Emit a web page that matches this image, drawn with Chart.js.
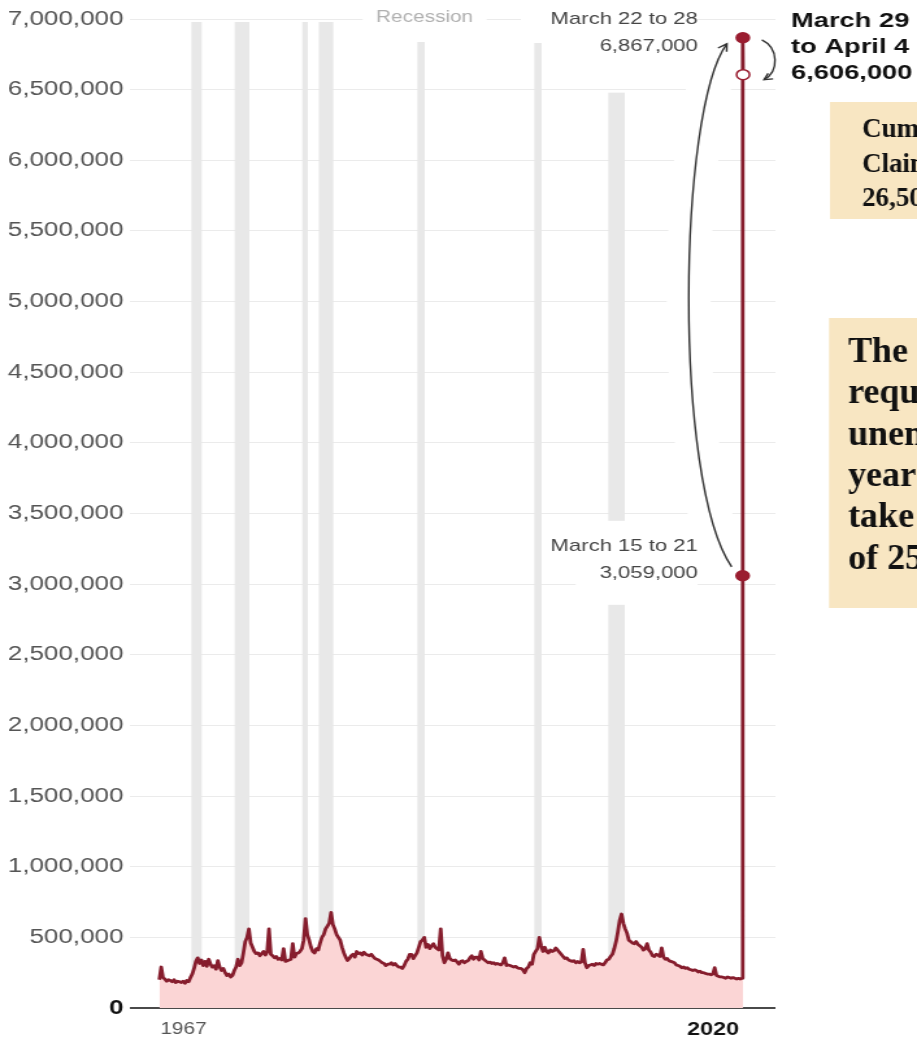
<!DOCTYPE html>
<html>
<head>
<meta charset="utf-8">
<script src="https://cdn.jsdelivr.net/npm/chart.js@4.4.1/dist/chart.umd.min.js"></script>
<style>
  html, body { margin: 0; padding: 0; background: #fff; overflow: hidden; }
  #wrap { position: absolute; left: 0; top: 0; width: 706px; height: 1044px;
          transform: scaleX(1.298867); transform-origin: 0 0; }
  canvas { display: block; }
</style>
</head>
<body>
<div id="wrap"><canvas id="c" width="706" height="1044"></canvas></div>
<script>
// ---------------- DATA ----------------
const startYear = 1967;
const periodsPerYear = 6; // two-month steps: Jan–Feb, Mar–Apr, May–Jun, Jul–Aug, Sep–Oct, Nov–Dec
// Weekly initial unemployment claims, thousands
const claimsThousands = [
  /*1967*/ 200, 290, 215, 205, 190, 200,
  /*1968*/ 195, 185, 200, 180, 190, 185,
  /*1969*/ 180, 190, 175, 195, 185, 215,
  /*1970*/ 240, 280, 330, 355, 315, 340,
  /*1971*/ 300, 330, 295, 345, 310, 290,
  /*1972*/ 300, 275, 335, 290, 265, 280,
  /*1973*/ 250, 230, 240, 220, 230, 265,
  /*1974*/ 290, 345, 300, 320, 390, 470,
  /*1975*/ 500, 560, 460, 430, 400, 385,
  /*1976*/ 390, 370, 385, 400, 375, 395,
  /*1977*/ 560, 380, 370, 355, 365, 345,
  /*1978*/ 350, 340, 420, 330, 335, 340,
  /*1979*/ 345, 455, 360, 385, 390, 400,
  /*1980*/ 420, 480, 632, 520, 480, 430,
  /*1981*/ 400, 390, 420, 410, 460, 500,
  /*1982*/ 520, 560, 580, 600, 676, 590,
  /*1983*/ 560, 520, 500, 480, 430, 390,
  /*1984*/ 360, 336, 350, 370, 380, 360,
  /*1985*/ 400, 385, 390, 375, 395, 380,
  /*1986*/ 375, 370, 380, 365, 350, 345,
  /*1987*/ 340, 330, 320, 315, 300, 310,
  /*1988*/ 310, 320, 305, 315, 300, 290,
  /*1989*/ 290, 280, 300, 330, 345, 380,
  /*1990*/ 380, 350, 370, 390, 430, 470,
  /*1991*/ 480, 500, 430, 450, 420, 440,
  /*1992*/ 455, 430, 420, 410, 560, 370,
  /*1993*/ 320, 345, 390, 350, 340, 335,
  /*1994*/ 340, 325, 310, 330, 335, 320,
  /*1995*/ 330, 335, 355, 370, 345, 360,
  /*1996*/ 360, 340, 400, 350, 340, 330,
  /*1997*/ 320, 325, 315, 320, 310, 315,
  /*1998*/ 310, 305, 320, 355, 300, 305,
  /*1999*/ 300, 295, 290, 295, 285, 280,
  /*2000*/ 280, 270, 250, 280, 290, 320,
  /*2001*/ 310, 380, 400, 420, 500, 440,
  /*2002*/ 400, 430, 400, 390, 410, 400,
  /*2003*/ 405, 425, 410, 395, 380, 365,
  /*2004*/ 350, 355, 340, 335, 330, 335,
  /*2005*/ 320, 330, 320, 325, 415, 320,
  /*2006*/ 285, 300, 305, 310, 300, 315,
  /*2007*/ 310, 315, 310, 305, 320, 340,
  /*2008*/ 345, 365, 380, 420, 470, 540,
  /*2009*/ 620, 665, 600, 560, 530, 480,
  /*2010*/ 470, 460, 455, 470, 450, 440,
  /*2011*/ 430, 410, 420, 455, 410, 395,
  /*2012*/ 370, 365, 380, 375, 365, 425,
  /*2013*/ 360, 345, 350, 335, 330, 325,
  /*2014*/ 320, 305, 300, 295, 285, 290,
  /*2015*/ 280, 285, 275, 270, 265, 270,
  /*2016*/ 265, 255, 260, 250, 250, 245,
  /*2017*/ 240, 240, 235, 240, 285, 230,
  /*2018*/ 225, 220, 220, 215, 210, 220,
  /*2019*/ 215, 210, 215, 210, 205, 210,
  /*2020*/ 205, 210
];
// The three record weeks of 2020
const finalWeekLabels = ['March 15 to 21', 'March 22 to 28', 'March 29 to April 4'];
const finalWeekDates  = [2020.218, 2020.237, 2020.256];
const finalWeekClaims = [3059000, 6867000, 6606000];
// Recessions (decimal years)
const recessionStarts = [1969.92, 1973.87, 1980.04, 1981.54, 1990.54, 2001.21, 2007.96];
const recessionEnds   = [1970.87, 1975.21, 1980.54, 1982.87, 1991.21, 2001.87, 2009.46];
const recessionTops   = [7000000, 7000000, 7000000, 7000000, 7000000, 7000000, 6500000];
// Axis
const yTickValues = [0, 500000, 1000000, 1500000, 2000000, 2500000, 3000000, 3500000,
                     4000000, 4500000, 5000000, 5500000, 6000000, 6500000, 7000000];
const xLabels = ['1967', '2020'];
const xMin = 1964.31, xMax = 2023.21;
const noteCumulative = ['Cumulative', 'Claims:', '26,500,000'];
const noteText = ['The', 'requests', 'unemployment', 'years', 'take', 'of 25'];

// ---------------- BUILD ----------------
const S = 917 / 706; // horizontal stretch of the page
const points = claimsThousands.map((v, i) => ({ x: startYear + i / periodsPerYear, y: v * 1000 }));
finalWeekDates.forEach((d, i) => points.push({ x: d, y: finalWeekClaims[i] }));
const N = points.length;
const fmt = v => v.toLocaleString('en-US');
const SANS = '"Liberation Sans", Arial, sans-serif';
const SERIF = '"Liberation Serif", "DejaVu Serif", serif';
const RED = '#861d2d';

function arrowCurve(ctx, p0, c1, c2, e) {
  ctx.beginPath();
  ctx.moveTo(p0[0], p0[1]);
  ctx.bezierCurveTo(c1[0], c1[1], c2[0], c2[1], e[0], e[1]);
  ctx.stroke();
}
function arrowHead(ctx, from, to, len) {
  const ang = Math.atan2(to[1] - from[1], to[0] - from[0]);
  ctx.beginPath();
  ctx.moveTo(to[0] - len * Math.cos(ang - 0.5), to[1] - len * Math.sin(ang - 0.5));
  ctx.lineTo(to[0], to[1]);
  ctx.lineTo(to[0] - len * Math.cos(ang + 0.5), to[1] - len * Math.sin(ang + 0.5));
  ctx.stroke();
}
function arrowGeom(chart) {
  const meta = chart.getDatasetMeta(0);
  const p1 = meta.data[N - 3], p2 = meta.data[N - 2], p3 = meta.data[N - 1];
  return {
    p1, p2, p3,
    big: [[p1.x - 11 / S, p1.y - 9], [p1.x - 70 / S, p1.y - 95], [p2.x - 65 / S, p2.y + 72], [p2.x - 16 / S, p2.y + 6]],
    small: [[p2.x + 19 / S, p2.y + 2], [p2.x + 36 / S, p2.y + 10], [p3.x + 36 / S, p3.y - 3], [p3.x + 21 / S, p3.y + 5]]
  };
}

const decor = {
  id: 'decor',
  beforeDatasetsDraw(chart) {
    const { ctx, chartArea: a, scales: { x, y } } = chart;
    ctx.save();
    // recession bands
    ctx.fillStyle = '#e8e8e8';
    const yBot = y.getPixelForValue(0) - 1;
    recessionStarts.forEach((s, i) => {
      const x0 = x.getPixelForValue(s), x1 = x.getPixelForValue(recessionEnds[i]);
      const yTop = y.getPixelForValue(recessionTops[i]) + 3;
      ctx.fillRect(x0, yTop, x1 - x0, yBot - yTop);
    });
    // white backgrounds of labels
    ctx.fillStyle = '#fff';
    const rc = x.getPixelForValue(1991.2);
    ctx.fillRect(rc - 62 / S, 0, 124 / S, 42);
    const g = arrowGeom(chart);
    ctx.fillRect(g.p2.x - 222 / S, 0, 177 / S, 43);
    ctx.fillRect(g.p1.x - 167 / S, g.p1.y - 55, 122 / S, 84);
    // halo around the long arrow
    ctx.strokeStyle = '#fff';
    ctx.lineWidth = 34;
    arrowCurve(ctx, ...g.big);
    ctx.restore();
  },
  afterDatasetsDraw(chart) {
    const { ctx, chartArea: a, scales: { x, y } } = chart;
    const g = arrowGeom(chart);
    ctx.save();
    // arrows
    ctx.strokeStyle = '#333';
    ctx.lineWidth = 1.4;
    arrowCurve(ctx, ...g.big);
    arrowHead(ctx, g.big[2], g.big[3], 8);
    arrowCurve(ctx, ...g.small);
    arrowHead(ctx, g.small[2], g.small[3], 7);

    ctx.textBaseline = 'middle';
    // Recession label
    ctx.font = '16px ' + SANS;
    ctx.fillStyle = '#b0b0b0';
    ctx.textAlign = 'center';
    ctx.fillText('Recession', x.getPixelForValue(1991.2), a.top - 1);
    // gray annotations
    ctx.font = '17px ' + SANS;
    ctx.fillStyle = '#454545';
    ctx.textAlign = 'right';
    const lx = g.p2.x - 45 / S;
    ctx.fillText(finalWeekLabels[1], lx, g.p2.y - 18);
    ctx.fillText(fmt(finalWeekClaims[1]), lx, g.p2.y + 9);
    ctx.fillText(finalWeekLabels[0], lx, g.p1.y - 29);
    ctx.fillText(fmt(finalWeekClaims[0]), lx, g.p1.y - 2);
    // bold latest week
    ctx.font = 'bold 21px ' + SANS;
    ctx.fillStyle = '#111';
    ctx.textAlign = 'left';
    const bx = g.p3.x + 48 / S;
    const parts = finalWeekLabels[2].split(' to ');
    ctx.fillText(parts[0], bx, g.p3.y - 53);
    ctx.fillText('to ' + parts[1], bx, g.p3.y - 27);
    ctx.fillText(fmt(finalWeekClaims[2]), bx, g.p3.y - 1);
    // x labels
    const yl = a.bottom + 22;
    ctx.font = '16px ' + SANS;
    ctx.fillStyle = '#555';
    ctx.textAlign = 'left';
    ctx.fillText(xLabels[0], x.getPixelForValue(startYear) + 1 / S, yl);
    ctx.font = 'bold 18px ' + SANS;
    ctx.fillStyle = '#111';
    ctx.textAlign = 'right';
    ctx.fillText(xLabels[1], x.getPixelForValue(finalWeekDates[2]) - 4 / S, yl);

    // note boxes (overlay, drawn in page units)
    ctx.scale(1 / S, 1);
    ctx.fillStyle = '#f8e6c2';
    ctx.fillRect(830, 102, 100, 117);
    ctx.fillRect(829, 318, 100, 290);
    ctx.fillStyle = '#111';
    ctx.textBaseline = 'alphabetic';
    ctx.textAlign = 'left';
    ctx.font = 'bold 27px ' + SERIF;
    noteCumulative.forEach((t, i) => ctx.fillText(t, 862, 137 + i * 34.5));
    ctx.font = 'bold 36px ' + SERIF;
    noteText.forEach((t, i) => ctx.fillText(t, 848, 362 + i * 41.3));
    ctx.restore();
  }
};

new Chart(document.getElementById('c'), {
  type: 'line',
  data: {
    datasets: [{
      data: points,
      borderColor: RED,
      borderWidth: 2.8,
      borderJoinStyle: 'round',
      backgroundColor: '#fbd5d5',
      fill: 'origin',
      tension: 0,
      clip: false,
      pointRadius: c => (c.dataIndex >= N - 3 ? 5 : 0),
      pointBackgroundColor: c => (c.dataIndex === N - 1 ? '#fff' : '#9a1d30'),
      pointBorderColor: '#9a1d30',
      pointBorderWidth: 1.5
    }]
  },
  options: {
    responsive: false,
    animation: false,
    events: [],
    layout: { padding: { left: 0, right: 109, top: 19, bottom: 36 } },
    plugins: { legend: { display: false }, tooltip: { enabled: false } },
    scales: {
      x: { type: 'linear', display: false, min: xMin, max: xMax },
      y: {
        min: 0, max: 7000000,
        afterFit(s) { s.width = 100; },
        afterBuildTicks(s) { s.ticks = yTickValues.map(v => ({ value: v })); },
        border: { display: false },
        grid: {
          drawTicks: false,
          color: c => (c.tick && c.tick.value === 0 ? '#4a4a4a' : '#ebebeb'),
          lineWidth: c => (c.tick && c.tick.value === 0 ? 2 : 1)
        },
        ticks: {
          padding: 5,
          callback: v => fmt(v),
          font: c => ({ family: SANS, size: 20, weight: c.tick && c.tick.value === 0 ? 'bold' : 'normal' }),
          color: c => (c.tick && c.tick.value === 0 ? '#111' : '#555')
        }
      }
    }
  },
  plugins: [decor]
});
</script>
</body>
</html>
